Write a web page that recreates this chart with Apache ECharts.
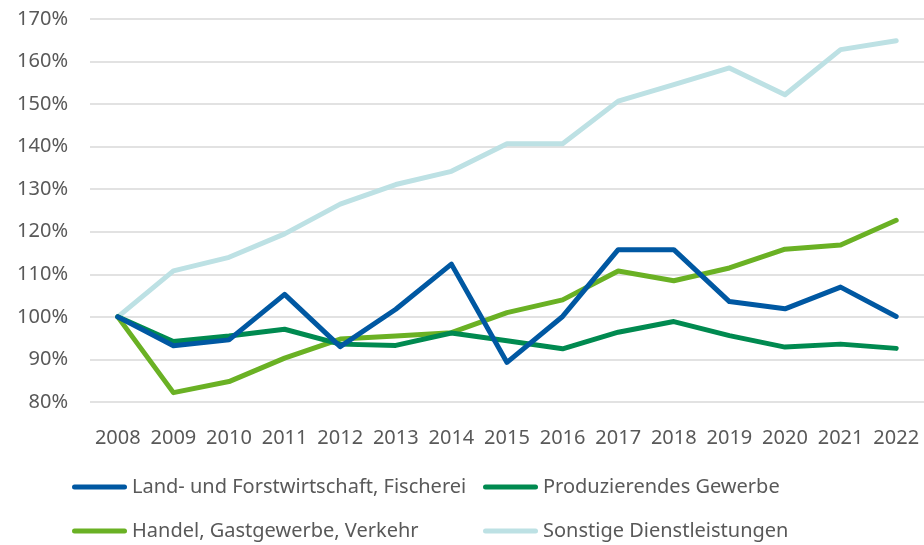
<!DOCTYPE html>
<html>
<head>
<meta charset="utf-8">
<script src="https://cdn.jsdelivr.net/npm/echarts@6/dist/echarts.min.js"></script>
<style>
  html, body { margin: 0; padding: 0; background: #fff; }
  #chart { width: 924px; height: 545px; }
</style>
</head>
<body>
<div id="chart"></div>
<script>
// Jahre
const years = ['2008', '2009', '2010', '2011', '2012', '2013', '2014', '2015',
  '2016', '2017', '2018', '2019', '2020', '2021', '2022'];

// Index 2008 = 100 %
const landForst = [100, 93.2, 94.6, 105.3, 93.0, 101.8, 112.4, 89.3, 100.1, 115.8, 115.8, 103.6, 101.9, 107.0, 100.1];
const produzierend = [100, 94.2, 95.5, 97.1, 93.6, 93.3, 96.2, 94.4, 92.5, 96.4, 98.9, 95.6, 92.9, 93.6, 92.6];
const handel = [100, 82.2, 84.8, 90.3, 94.8, 95.5, 96.3, 101.0, 104.0, 110.8, 108.5, 111.5, 115.9, 116.9, 122.7];
const sonstige = [100, 110.8, 114.0, 119.5, 126.5, 131.1, 134.2, 140.7, 140.7, 150.7, 154.6, 158.5, 152.2, 162.8, 164.9];

const names = ['Land- und Forstwirtschaft, Fischerei', 'Produzierendes Gewerbe',
  'Handel, Gastgewerbe, Verkehr', 'Sonstige Dienstleistungen'];
const colors = ['#0058a2', '#008a50', '#6ab124', '#bde1e4'];

const font = 'Noto Sans';
const textColor = '#595959';

const myChart = echarts.init(document.getElementById('chart'));

// legend icon: capsule
const capsule = 'path://M2.5,0 L52.5,0 A2.5,2.5 0 0 1 52.5,5 L2.5,5 A2.5,2.5 0 0 1 2.5,0 Z';
const legendBase = {
  orient: 'vertical',
  top: 477,
  height: 68,
  icon: capsule,
  itemWidth: 55,
  itemHeight: 5,
  itemGap: 24,
  padding: 0,
  textStyle: { color: textColor, fontSize: 20, lineHeight: 20, fontFamily: font },
  selectedMode: false
};

function lineSeries(i, data) {
  return {
    name: names[i],
    type: 'line',
    data: data,
    symbol: 'none',
    lineStyle: { color: colors[i], width: 5, cap: 'round', join: 'round' },
    itemStyle: { color: colors[i] }
  };
}

const option = {
  animation: false,
  grid: { left: 90, right: -5, top: 19, bottom: 143 },
  legend: [
    Object.assign({ left: 72, data: [names[0], names[2]] }, legendBase),
    Object.assign({ left: 483, data: [names[1], names[3]] }, legendBase)
  ],
  xAxis: {
    type: 'category',
    data: years,
    boundaryGap: true,
    axisLine: { show: false },
    axisTick: { show: false },
    axisLabel: { color: textColor, fontSize: 20, fontFamily: font, margin: 26, interval: 0 }
  },
  yAxis: {
    type: 'value',
    min: 80,
    max: 170,
    interval: 10,
    axisLine: { show: false },
    axisTick: { show: false },
    splitLine: { lineStyle: { color: '#d9d9d9', width: 1.5 } },
    axisLabel: { color: textColor, fontSize: 20, fontFamily: font, margin: 22, formatter: '{value}%' }
  },
  // Reihenfolge wie im Original: hellblau zuerst, blau oben
  series: [
    lineSeries(3, sonstige),
    lineSeries(2, handel),
    lineSeries(1, produzierend),
    lineSeries(0, landForst)
  ]
};

myChart.setOption(option);
</script>
</body>
</html>
